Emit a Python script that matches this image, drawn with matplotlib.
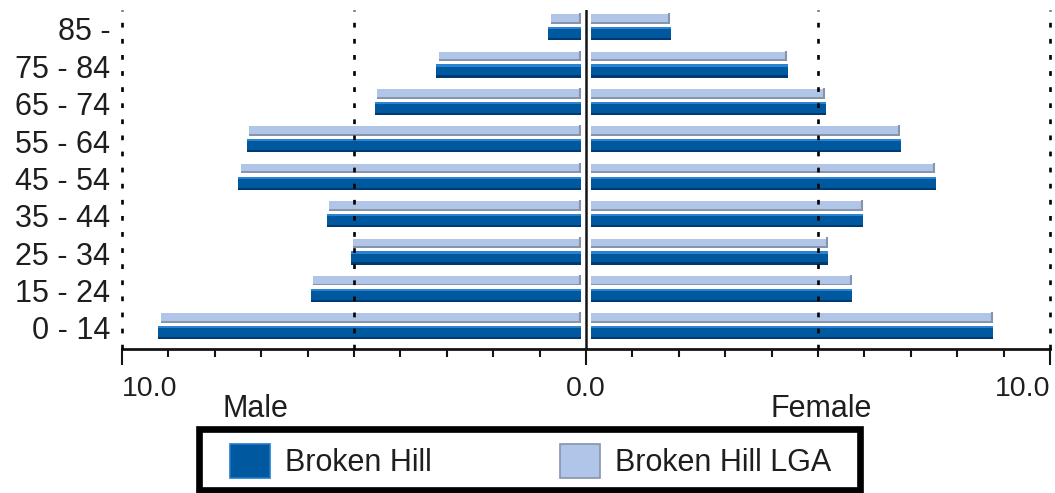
#!/usr/bin/env python3
# === Age pyramid: Broken Hill vs Broken Hill LGA ===
import matplotlib
matplotlib.use('Agg')
import matplotlib.pyplot as plt
from matplotlib.patches import Patch, Rectangle
import numpy as np

# === Data (percent of population) ===
age_groups = ['0 - 14', '15 - 24', '25 - 34', '35 - 44', '45 - 54',
              '55 - 64', '65 - 74', '75 - 84', '85 -']
male_bh = [9.22, 5.93, 5.07, 5.59, 7.49, 7.31, 4.55, 3.23, 0.82]
male_lga = [9.16, 5.88, 5.02, 5.53, 7.43, 7.26, 4.50, 3.17, 0.76]
female_bh = [8.78, 5.74, 5.22, 5.97, 7.54, 6.78, 5.17, 4.35, 1.83]
female_lga = [8.77, 5.73, 5.21, 5.96, 7.52, 6.77, 5.15, 4.34, 1.81]
series_names = ['Broken Hill', 'Broken Hill LGA']
xtick_values = [-10, 0, 10]
xtick_labels = ['10.0', '0.0', '10.0']

# === Styling ===
DARK = '#00589F'
DARK_HI = '#2A84D2'
DARK_LO = '#003A70'
LIGHT = '#B1C5E8'
LIGHT_LO = '#8694AC'
TEXT = '#1E1E1E'
GAP = 0.1  # small gap between bars and the centre line

plt.rcParams['font.family'] = ['Liberation Sans', 'DejaVu Sans']

fig = plt.figure(figsize=(10.55, 4.93), dpi=100)
ax = fig.add_axes([122 / 1055, 1 - 349 / 493, 928 / 1055, 339 / 493])

y = np.arange(len(age_groups))
male_bh_a = np.array(male_bh)
male_lga_a = np.array(male_lga)
female_bh_a = np.array(female_bh)
female_lga_a = np.array(female_lga)

# light bars (LGA) sit above, dark bars (Broken Hill) below
yl, hl = y + 0.267, 0.254
yd, hd = y - 0.125, 0.356


def draw_side(sign, dark_vals, light_vals):
    dw = sign * (dark_vals - GAP)
    lw_ = sign * (light_vals - GAP)
    left = sign * GAP
    # light series with a grey shadow along the bottom
    ax.barh(yl, lw_, height=hl, left=left, color=LIGHT, zorder=3)
    ax.barh(yl - hl / 2 + 0.025, lw_, height=0.05, left=left, color=LIGHT_LO, zorder=4)
    right_end = np.where(sign > 0, light_vals, -GAP)
    ax.vlines(right_end - 0.02, yl - hl / 2, yl + hl / 2 + 0.03, color=LIGHT_LO, lw=1.5, zorder=4)
    # dark series with a highlight on top and shadow on the bottom
    ax.barh(yd, dw, height=hd, left=left, color=DARK, zorder=3)
    ax.barh(yd + hd / 2 - 0.03, dw, height=0.06, left=left, color=DARK_HI, zorder=4)
    ax.barh(yd - hd / 2 + 0.03, dw, height=0.06, left=left, color=DARK_LO, zorder=4)


draw_side(-1, male_bh_a, male_lga_a)
draw_side(1, female_bh_a, female_lga_a)

# dotted grid lines and the solid centre line
for gx in [-10, -5, 5, 10]:
    ax.axvline(gx, color='black', lw=1.9, linestyle=(0, (1.8, 4.3)), clip_on=False, zorder=5)
ax.axvline(0, color='#141414', lw=1.8, zorder=6)

ax.set_xlim(-10, 10)
ax.set_ylim(-0.562, 8.508)

ax.set_yticks(y)
ax.set_yticklabels(age_groups, fontsize=22, color=TEXT)
ax.tick_params(axis='y', length=0, pad=8.5)

ax.set_xticks(xtick_values)
ax.set_xticklabels(xtick_labels, fontsize=20.5, color=TEXT)
ax.set_xticks(np.arange(-10, 11, 1), minor=True)
ax.tick_params(axis='x', which='major', length=11.5, width=1.5, pad=8, color='#141414')
ax.tick_params(axis='x', which='minor', length=5.8, width=1.5, color='#141414')
xl = ax.get_xticklabels()
xl[0].set_ha('left')
xl[-1].set_ha('right')

for s in ['top', 'left', 'right']:
    ax.spines[s].set_visible(False)
ax.spines['bottom'].set_linewidth(2)
ax.spines['bottom'].set_color('#141414')

fig.text(255 / 1055, 1 - 417 / 493, 'Male', ha='center', va='baseline', fontsize=22, color=TEXT)
fig.text(821 / 1055, 1 - 417 / 493, 'Female', ha='center', va='baseline', fontsize=22, color=TEXT)

# legend with a heavy black box
handles = [Patch(facecolor=DARK, edgecolor='#1F7CCB', lw=1.2),
           Patch(facecolor=LIGHT, edgecolor=LIGHT_LO, lw=1.2)]
fig.legend(handles, series_names, loc='center', bbox_to_anchor=(531 / 1055, 1 - 461 / 493),
           ncol=2, frameon=False, fontsize=22, labelcolor=TEXT, handlelength=1.31,
           handleheight=1.31, handletextpad=0.49, columnspacing=4.2, borderpad=0)
fig.patches.append(Rectangle((199 / 1055, 1 - 490 / 493), 661 / 1055, 61 / 493,
                             transform=fig.transFigure, fill=False, edgecolor='black', lw=4.8))

fig.savefig('out.png', dpi=100)
